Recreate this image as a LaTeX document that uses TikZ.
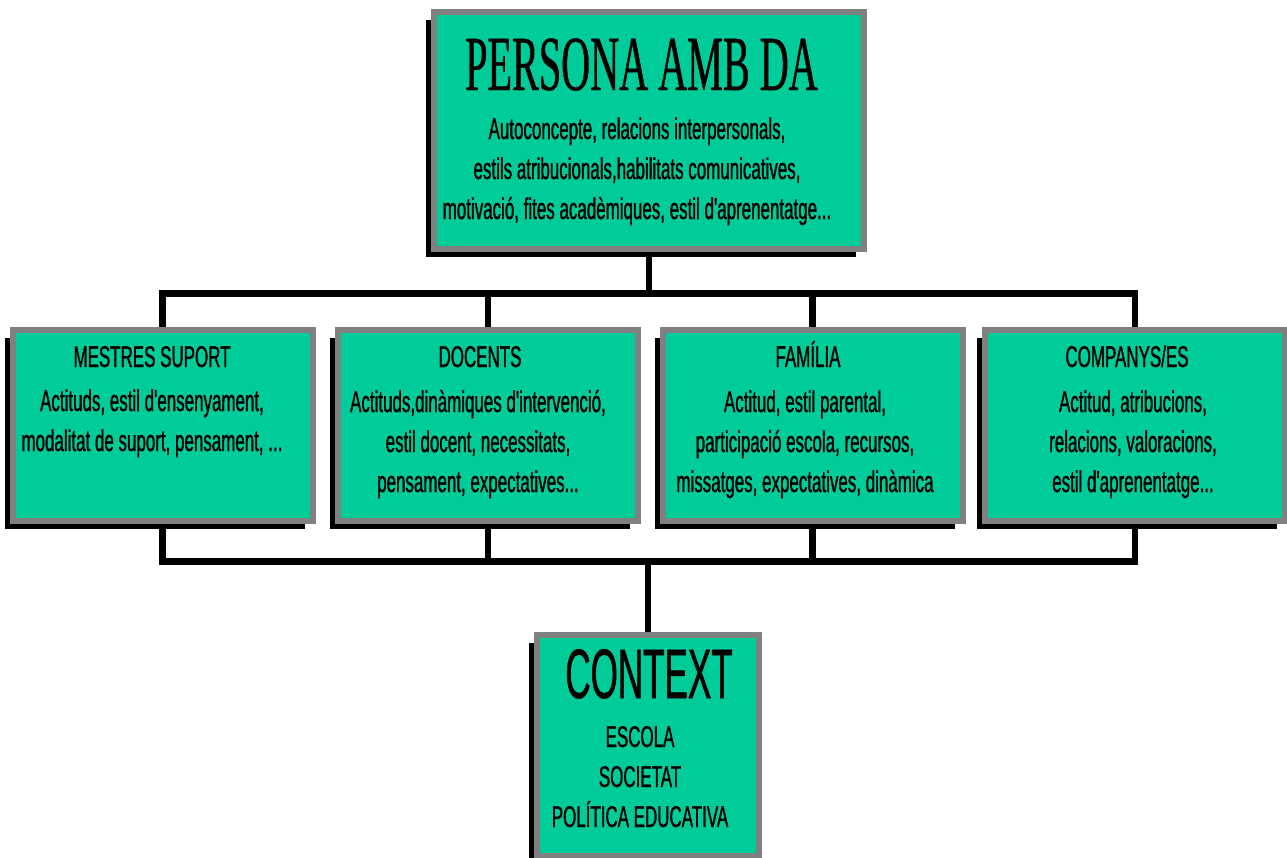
\documentclass[tikz,border=0pt]{standalone}
\usepackage{fontspec}
\newfontfamily\bodyfont[FakeStretch=0.565, FakeBold=1]{Liberation Sans}
\newfontfamily\ctxfont[FakeStretch=0.5, FakeBold=0.8]{Liberation Sans}
\newfontfamily\titlefont[FakeStretch=0.515, FakeBold=0.5]{Liberation Serif}
\usetikzlibrary{shadows,backgrounds}
\definecolor{boxgreen}{RGB}{0,204,153}
\definecolor{boxgrey}{RGB}{128,128,128}
\tikzset{
  panel/.style={draw=boxgrey, line width=6pt, fill=boxgreen, inner sep=0pt,
    drop shadow={shadow xshift=-8pt, shadow yshift=-8pt, fill=black, opacity=1}},
  rowpanel/.style={panel, minimum width=300pt, minimum height=191pt},
  conn/.style={draw=black, line width=6.5pt, line join=miter},
  body/.style={font=\bodyfont\fontsize{30}{40}\selectfont, align=center, anchor=base, inner sep=0pt},
  head/.style={font=\bodyfont\fontsize{30}{40}\selectfont, anchor=base, inner sep=0pt},
  bigtitle/.style={font=\titlefont\fontsize{78}{78}\selectfont, anchor=base, inner sep=0pt},
  ctxtitle/.style={font=\ctxfont\fontsize{70}{70}\selectfont, anchor=base, inner sep=0pt},
}
\begin{document}
\begin{tikzpicture}[x=1pt,y=-1pt]
\useasboundingbox (0,0) rectangle (1287,857);
% boxes
\node[panel, minimum width=430pt, minimum height=237pt] (top) at (649,130.5) {};
\node[rowpanel] (ms) at (162.5,425) {};
\node[rowpanel] (dc) at (488,425) {};
\node[rowpanel] (fa) at (812.5,425) {};
\node[rowpanel] (cp) at (1135,425) {};
\node[panel, minimum width=222pt, minimum height=221pt] (ctx) at (648,745) {};
% buses
\coordinate (busT) at (0,293.5);
\coordinate (busB) at (0,561.5);
\begin{pgfonlayer}{background}
\draw[conn] (ms.north) -- (ms.north |- busT) -- (cp.north |- busT) -- (cp.north);
\draw[conn] (top.south) -- (top.south |- busT);
\draw[conn] (dc.north) -- (dc.north |- busT);
\draw[conn] (fa.north) -- (fa.north |- busT);
\draw[conn] (ms.south) -- (ms.south |- busB) -- (cp.south |- busB) -- (cp.south);
\draw[conn] (dc.south) -- (dc.south |- busB);
\draw[conn] (fa.south) -- (fa.south |- busB);
\draw[conn] (ctx.north) -- (ctx.north |- busB);
\end{pgfonlayer}
% texts (multi-line nodes: base = last line's baseline)
\node[bigtitle] (topT) at (641.5,90) {PERSONA AMB DA};
\node[body] (topB) at (637,219) {Autoconcepte, relacions interpersonals,\\estils atribucionals,habilitats comunicatives,\\motivació, fites acadèmiques, estil d'aprenentatge...};
\node[head] (msT) at (152,367) {MESTRES SUPORT};
\node[body] (msB) at (152,451) {Actituds, estil d'ensenyament,\\modalitat de suport, pensament, ...};
\node[head] (dcT) at (480,367) {DOCENTS};
\node[body] (dcB) at (478,492) {Actituds,dinàmiques d'intervenció,\\estil docent, necessitats,\\pensament, expectatives...};
\node[head] (faT) at (808,367) {FAMÍLIA};
\node[body] (faB) at (805,492) {Actitud, estil parental,\\participació escola, recursos,\\missatges, expectatives, dinàmica};
\node[head] (cpT) at (1127,367) {COMPANYS/ES};
\node[body] (cpB) at (1133,492) {Actitud, atribucions,\\relacions, valoracions,\\estil d'aprenentatge...};
\node[ctxtitle] (ctxT) at (649,698) {CONTEXT};
\node[body] (ctxB) at (640,827) {ESCOLA\\SOCIETAT\\POLÍTICA EDUCATIVA};
\end{tikzpicture}
\end{document}
